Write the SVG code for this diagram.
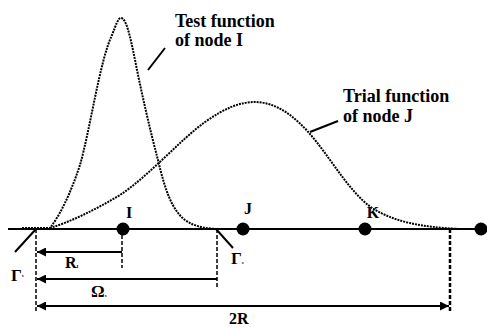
<svg xmlns="http://www.w3.org/2000/svg" width="487" height="328" viewBox="0 0 487 328">
<style>
text{font-family:"Liberation Serif","Times New Roman",serif;font-weight:bold;fill:#000}
.lbl{font-size:16px}
.fn{font-size:18px}
.gl{font-size:17px}
.sub{font-size:5px}
.axis{stroke:#000;stroke-width:2;fill:none}
.curve{stroke:#000;stroke-width:2;fill:none;stroke-dasharray:2 1}
.dash{stroke:#000;stroke-width:1.5;stroke-dasharray:4 2;fill:none}
.dashb{stroke:#000;stroke-width:2.5;stroke-dasharray:4 2;fill:none}
.dim{stroke:#000;stroke-width:2;fill:none}
.lead{stroke:#000;stroke-width:2;fill:none}
</style>
<defs>
<marker id="ah" viewBox="0 0 10 10" refX="10" refY="5" markerWidth="5.5" markerHeight="4.5" orient="auto-start-reverse" markerUnits="strokeWidth">
<path d="M0,0 L10,5 L0,10 z" fill="#000"/>
</marker>
</defs>
<g id="axis">
<line class="axis" x1="8" y1="229" x2="480" y2="229"/>
</g>
<g id="curves">
<path id="test-fn" class="curve" d="M22,228 L50,228 C60,215 70,195 80,165 C90,130 100,60 112,35 C116,25 118,18 121,18 C126,18 130,35 135,60 C142,95 150,130 158,160 C165,190 172,210 185,220 C195,227 205,228 215,229"/>
<path id="trial-fn" class="curve" d="M50,228 C70,222 95,210 120,195 C150,175 180,140 205,122 C225,108 240,102 255,102 C275,102 295,115 315,140 C335,165 350,192 372,208 C395,222 420,227 460,229"/>
</g>
<g id="node-I"><circle cx="123" cy="229" r="6.5"/><text class="lbl" x="129" y="218" text-anchor="middle">I</text></g>
<g id="node-J"><circle cx="243" cy="229" r="6.5"/><text class="lbl" x="248" y="214" text-anchor="middle">J</text></g>
<g id="node-K"><circle cx="365" cy="229" r="6.5"/><text class="lbl" x="373" y="218" text-anchor="middle">K</text></g>
<g id="node-end"><circle cx="481" cy="229" r="6.5"/></g>
<g id="labels">
<text class="fn" x="175" y="27">Test function</text>
<text class="fn" x="175" y="46">of node I</text>
<text class="fn" x="343" y="102">Trial function</text>
<text class="fn" x="343" y="122">of node J</text>
<text class="gl" x="11" y="281">Γ<tspan class="sub" dy="-4">s</tspan></text>
<text class="gl" x="231" y="264">Γ<tspan class="sub">s</tspan></text>
<text class="lbl" x="65" y="268">R<tspan class="sub">I</tspan></text>
<text class="gl" x="91" y="297">Ω<tspan class="sub">s</tspan></text>
<text class="lbl" x="229" y="324">2R</text>
</g>
<g id="connectors">
<line class="lead" x1="148" y1="70" x2="165" y2="48"/>
<line class="lead" x1="310" y1="132" x2="338" y2="121"/>
<line class="lead" x1="15" y1="252" x2="36" y2="229"/>
<line class="lead" x1="216" y1="229" x2="233" y2="248"/>
<line class="dash" x1="36" y1="229" x2="36" y2="312"/>
<line class="dash" x1="122" y1="229" x2="122" y2="268"/>
<line class="dash" x1="217" y1="229" x2="217" y2="288"/>
<line class="dashb" x1="450" y1="229" x2="450" y2="311"/>
<line class="dim" x1="122" y1="252" x2="37" y2="252" marker-end="url(#ah)"/>
<line class="dim" x1="217" y1="279" x2="37" y2="279" marker-end="url(#ah)"/>
<line class="dim" x1="37" y1="306" x2="449" y2="306" marker-start="url(#ah)" marker-end="url(#ah)"/>
</g>
</svg>
